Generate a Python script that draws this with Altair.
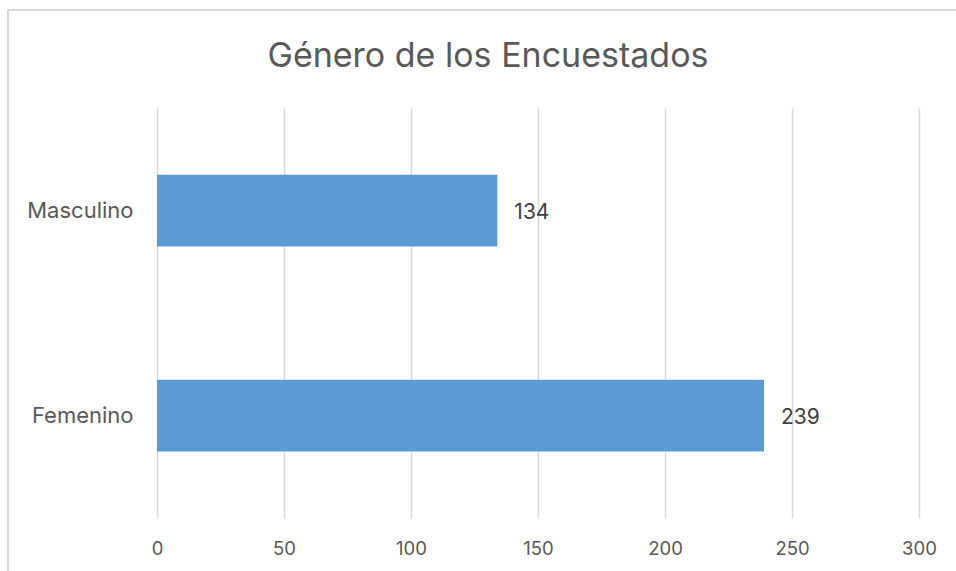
import altair as alt
import pandas as pd

categories = ["Masculino", "Femenino"]
values = [134, 239]
x_ticks = [0, 50, 100, 150, 200, 250, 300]
title_text = "Género de los Encuestados"

df = pd.DataFrame({"genero": categories, "n": values})

FONT = "Inter"
GREY = "#595959"

base = alt.Chart(df)

bars = base.mark_bar(color="#5b9bd5").encode(
    x=alt.X("n:Q", scale=alt.Scale(domain=[0, 300], nice=False),
            axis=alt.Axis(values=x_ticks, title=None, grid=True, gridColor="#d9d9d9",
                          gridWidth=1.5, domain=False, ticks=False, labelPadding=21,
                          labelFlush=False, labelFontSize=18.5, labelColor=GREY, labelFont=FONT)),
    y=alt.Y("genero:N", sort=categories,
            scale=alt.Scale(paddingInner=0.65, paddingOuter=0.325),
            axis=alt.Axis(title=None, domain=False, ticks=False, labelPadding=24,
                          labelFontSize=22, labelColor=GREY, labelFont=FONT)),
)

labels = base.mark_text(align="left", baseline="middle", dx=17, dy=2, fontSize=21,
                        font=FONT, color="#404040").encode(
    x="n:Q", y=alt.Y("genero:N", sort=categories), text="n:Q"
)

title = alt.Chart(pd.DataFrame({"t": [title_text]})).mark_text(
    fontSize=34, font=FONT, color=GREY, align="center", baseline="alphabetic"
).encode(text="t:N", x=alt.value(331), y=alt.value(-41))

border_top = alt.Chart(df).mark_rule(color="#d9d9d9", strokeWidth=2).encode(
    x=alt.value(-149), x2=alt.value(820), y=alt.value(-98)
)
border_left = alt.Chart(df).mark_rule(color="#d9d9d9", strokeWidth=2).encode(
    x=alt.value(-149), y=alt.value(-98), y2=alt.value(470)
)

chart = alt.layer(border_top, border_left, bars, labels, title).properties(
    width=762, height=410,
    background="white",
    autosize=alt.AutoSizeParams(type="none"),
    padding={"left": 157, "top": 108, "right": 37, "bottom": 53},
).configure_view(stroke=None)

chart.save("out.html", embed_options={"renderer": "svg", "actions": False})
